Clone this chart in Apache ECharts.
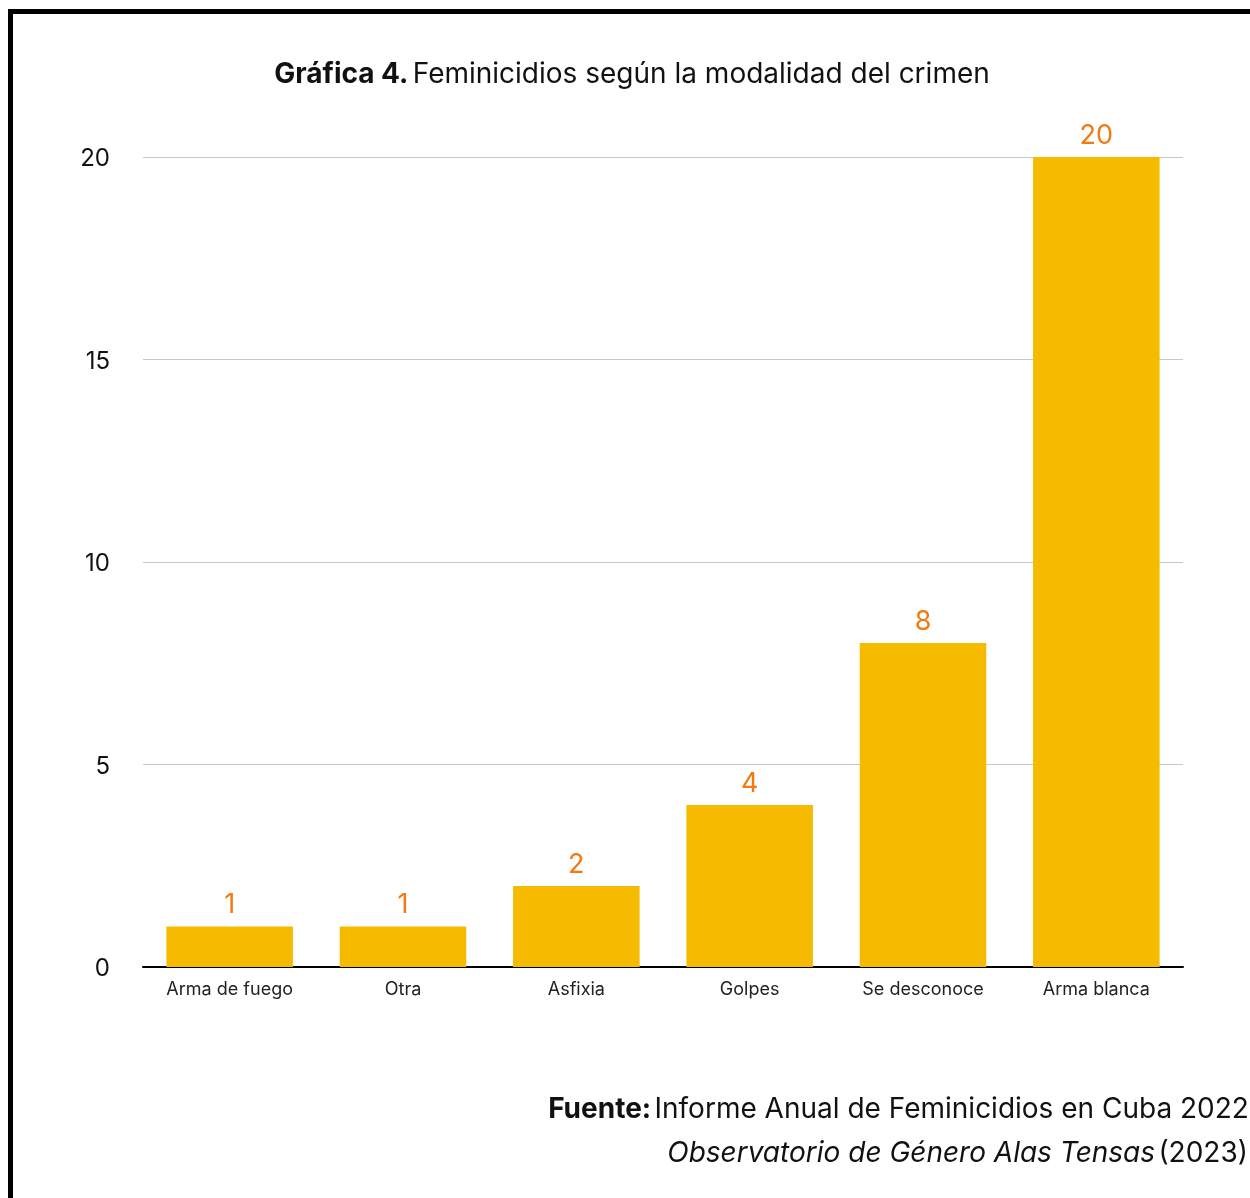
<!DOCTYPE html>
<html><head><meta charset="utf-8">
<script src="https://cdn.jsdelivr.net/npm/echarts@6/dist/echarts.min.js"></script>
<style>html,body{margin:0;padding:0;background:#fff}#c{width:1250px;height:1198px}</style>
</head><body><div id="c"></div>
<script>
const categories = ['Arma de fuego', 'Otra', 'Asfixia', 'Golpes', 'Se desconoce', 'Arma blanca'];
const values = [1, 1, 2, 4, 8, 20];
const yTicks = [0, 5, 10, 15, 20];

const chart = echarts.init(document.getElementById('c'), null, {renderer: 'canvas'});
const FONT = 'Inter, "Noto Sans", sans-serif';
chart.setOption({
  animation: false,
  backgroundColor: '#fff',
  textStyle: {fontFamily: FONT},
  title: {
    text: '{b|Gráfica 4.} {n|Feminicidios según la modalidad del crimen}',
    left: 627, top: 56, textAlign: 'center',
    textStyle: {rich: {
      b: {fontFamily: FONT, fontWeight: 'bold', fontSize: 28, color: '#111'},
      n: {fontFamily: FONT, fontWeight: 'normal', fontSize: 28, color: '#111'}
    }}
  },
  grid: {left: 143, right: 67, top: 157, bottom: 231, containLabel: false},
  xAxis: {
    type: 'category', data: categories,
    axisLine: {lineStyle: {color: '#000', width: 2}},
    axisTick: {show: false},
    axisLabel: {color: '#222', fontSize: 18, margin: 14, fontFamily: FONT}
  },
  yAxis: {
    type: 'value', min: yTicks[0], max: yTicks[yTicks.length - 1], interval: 5,
    axisLine: {show: false}, axisTick: {show: false},
    axisLabel: {
      margin: 33, formatter: '{a|{value}}',
      rich: {a: {color: '#111', fontSize: 24, fontFamily: FONT, padding: [4, 0, 0, 0]}}
    },
    splitLine: {lineStyle: {color: '#c8c8c8', width: 1}}
  },
  series: [{
    type: 'bar', data: values, barCategoryGap: '27%',
    itemStyle: {color: '#F6BA00'},
    label: {show: true, position: 'top', distance: 8, color: '#F37A10', fontSize: 27, fontFamily: FONT}
  }],
  graphic: [
    {type: 'rect', shape: {x: 10.5, y: 11.5, width: 1300, height: 1300},
     style: {fill: 'none', stroke: '#000', lineWidth: 5}, z: 100},
    {type: 'text', x: 1257, y: 1110, z: 100,
     style: {text: '{b|Fuente:} {n|Informe Anual de Feminicidios en Cuba 2022.}', align: 'right', verticalAlign: 'middle',
       rich: {b: {fontFamily: FONT, fontWeight: 'bold', fontSize: 28, fill: '#111'},
              n: {fontFamily: FONT, fontSize: 28, fill: '#111'}}}},
    {type: 'text', x: 1256, y: 1154, z: 100,
     style: {text: '{i|Observatorio de Género Alas Tensas} {n|(2023).}', align: 'right', verticalAlign: 'middle',
       rich: {i: {fontFamily: FONT, fontStyle: 'italic', fontSize: 28, fill: '#111'},
              n: {fontFamily: FONT, fontSize: 28, fill: '#111'}}}}
  ]
});
</script></body></html>
